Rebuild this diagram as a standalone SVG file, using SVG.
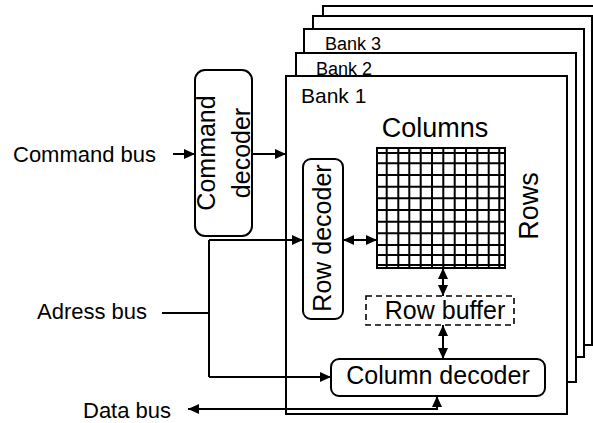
<svg xmlns="http://www.w3.org/2000/svg" width="593" height="423" viewBox="0 0 593 423">
<defs>
<marker id="arr" markerUnits="userSpaceOnUse" markerWidth="12" markerHeight="10" refX="11" refY="5" orient="auto-start-reverse">
<path d="M0,0 L11,5 L0,10 z" fill="#000"/>
</marker>
<style>
.bank{fill:#fff;stroke:#000;stroke-width:2}
.box{fill:#fff;stroke:#000;stroke-width:2}
.dash{fill:#fff;stroke:#000;stroke-width:1.6;stroke-dasharray:6,4}
.t{font-family:"Liberation Sans",Arial,sans-serif;fill:#000}
.c{stroke:#000;stroke-width:2;fill:none}
.g{stroke:#000;stroke-width:2}
</style>
</defs>
<rect width="593" height="423" fill="#fff"/>
<g id="bank5"><rect class="bank" x="323" y="6" width="290" height="327"/></g>
<g id="bank4"><rect class="bank" x="313" y="16" width="279" height="329"/></g>
<g id="bank3"><rect class="bank" x="304" y="29" width="280" height="328"/><text class="t" x="325" y="50" font-size="18">Bank 3</text></g>
<g id="bank2"><rect class="bank" x="296" y="53" width="280" height="329"/><text class="t" x="316" y="75" font-size="18">Bank 2</text></g>
<g id="bank1"><rect class="bank" x="286" y="76" width="281" height="338"/><text class="t" x="301" y="103" font-size="21">Bank 1</text></g>
<g id="command-decoder"><rect class="box" x="195" y="70" width="57" height="166" rx="10"/>
<text class="t" font-size="25" text-anchor="middle" transform="translate(215,153) rotate(-90)">Command</text>
<text class="t" font-size="25" text-anchor="middle" transform="translate(250,153) rotate(-90)">decoder</text></g>
<g id="row-decoder"><rect class="box" x="303" y="159" width="40" height="160" rx="8"/>
<text class="t" font-size="25" text-anchor="middle" transform="translate(331,238) rotate(-90)">Row decoder</text></g>
<g id="array">
<text class="t" x="435" y="137" font-size="27" text-anchor="middle">Columns</text>
<text class="t" font-size="27" text-anchor="middle" transform="translate(538,206) rotate(-90)">Rows</text>
<rect x="377" y="148" width="128" height="120" fill="#fff" stroke="#000" stroke-width="2"/>
<path class="g" d="M386.7,148V268M398.3,148V268M409.3,148V268M420.7,148V268M432,148V268M443.3,148V268M454.7,148V268M466,148V268M477.3,148V268M488.7,148V268M499.3,148V268M377,153H505M377,163.3H505M377,175H505M377,186.7H505M377,198.3H505M377,210H505M377,221.7H505M377,233.3H505M377,245H505M377,255H505M377,265H505"/>
</g>
<g id="row-buffer"><rect class="dash" x="366" y="296" width="148" height="29"/>
<text class="t" x="445" y="319" font-size="25" text-anchor="middle">Row buffer</text></g>
<g id="column-decoder"><rect class="box" x="331" y="359" width="214" height="37" rx="8"/>
<text class="t" x="438" y="384" font-size="25" text-anchor="middle">Column decoder</text></g>
<g id="labels">
<text class="t" x="13" y="162" font-size="22">Command bus</text>
<text class="t" x="37" y="319" font-size="22">Adress bus</text>
<text class="t" x="83" y="418" font-size="22">Data bus</text>
</g>
<g id="connectors">
<path class="c" d="M173,154H195" marker-end="url(#arr)"/>
<path class="c" d="M252,154H286" marker-end="url(#arr)"/>
<path class="c" d="M162,313H209"/>
<path class="c" d="M209,240V377"/>
<path class="c" d="M209,240H303" marker-end="url(#arr)"/>
<path class="c" d="M209,377H331" marker-end="url(#arr)"/>
<path class="c" d="M343,240H377" marker-start="url(#arr)" marker-end="url(#arr)"/>
<path class="c" d="M443,268V296" marker-start="url(#arr)" marker-end="url(#arr)"/>
<path class="c" d="M443,325V359" marker-start="url(#arr)" marker-end="url(#arr)"/>
<path class="c" d="M437,396V409H188" marker-start="url(#arr)" marker-end="url(#arr)"/>
</g>
</svg>
